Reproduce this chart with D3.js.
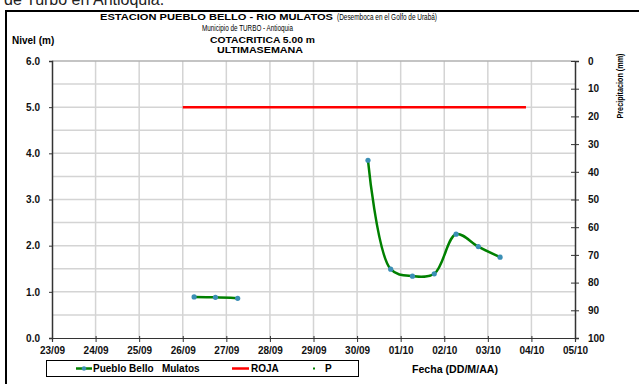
<!DOCTYPE html>
<html><head><meta charset="utf-8">
<script src="https://cdn.jsdelivr.net/npm/d3@7"></script>
<style>body{margin:0;background:#fff}svg{display:block;font-family:"Liberation Sans",Arial,sans-serif}</style>
</head><body>
<script>
const xTickLabels = ["23/09","24/09","25/09","26/09","27/09","28/09","29/09","30/09","01/10","02/10","03/10","04/10","05/10"];
const levelTimes = ["2023-09-26T06:15","2023-09-26T18:00","2023-09-27T06:15",null,
  "2023-09-30T06:00","2023-09-30T18:30","2023-10-01T06:30","2023-10-01T18:30","2023-10-02T06:30","2023-10-02T18:45","2023-10-03T06:45"];
const levelValues = [0.89,0.88,0.86,null,3.85,1.49,1.34,1.39,2.25,1.98,1.75];
const rojaTimes = ["2023-09-26T00:00","2023-10-03T21:00"];
const rojaValues = [5.0,5.0];
const precipTimes = [];
const precipValues = [];
const yTicks = [0,1,2,3,4,5,6];
const y2Ticks = [0,10,20,30,40,50,60,70,80,90,100];

const W=639,H=384;
const svg=d3.select("body").append("svg").attr("width",W).attr("height",H);
const L=52,R=575,T=61,B=338;
const parse=d3.isoParse;
const x=d3.scaleTime().domain([parse("2023-09-23T00:00"),parse("2023-10-05T00:00")]).range([L,R]);
const y=d3.scaleLinear().domain([0,6]).range([B,T]);
const y2=d3.scaleLinear().domain([0,100]).range([T,B]);

// top cut text
svg.append("text").attr("x",4).attr("y",5).attr("font-size",16).attr("fill","#222").text("de Turbo en Antioquia.");
// frame
svg.append("path").attr("d",`M6,${H+5}V11H${W+5}`).attr("fill","none").attr("stroke","#000").attr("stroke-width",2);

// titles
const t1=svg.append("text").attr("y",20);
t1.append("tspan").attr("x",100).attr("font-weight","bold").attr("font-size",9).attr("textLength",233).attr("lengthAdjust","spacingAndGlyphs").text("ESTACION PUEBLO BELLO -  RIO MULATOS");
t1.append("tspan").attr("x",337).attr("font-size",9).attr("textLength",100).attr("lengthAdjust","spacingAndGlyphs").text("(Desemboca en el Golfo de Urabá)");
svg.append("text").attr("x",202).attr("y",31).attr("font-size",9).attr("textLength",91).attr("lengthAdjust","spacingAndGlyphs").text("Municipio de TURBO - Antioquia");
svg.append("text").attr("x",210).attr("y",43).attr("font-size",9).attr("font-weight","bold").attr("textLength",105).attr("lengthAdjust","spacingAndGlyphs").text("COTACRITICA 5.00 m");
svg.append("text").attr("x",217).attr("y",53).attr("font-size",9).attr("font-weight","bold").attr("textLength",86).attr("lengthAdjust","spacingAndGlyphs").text("ULTIMASEMANA");
svg.append("text").attr("x",12).attr("y",44).attr("font-size",10).attr("font-weight","bold").text("Nivel (m)");

// grid
const g=svg.append("g");
const days=d3.range(xTickLabels.length).map(i=>d3.timeDay.offset(parse("2023-09-23T00:00"),i));
g.selectAll(".vg").data(days.slice(1,-1)).join("line").attr("x1",d=>x(d)).attr("x2",d=>x(d)).attr("y1",T).attr("y2",B).attr("stroke","#d4d4d4").attr("stroke-width",1.5);
g.selectAll(".hg").data(d3.range(0.5,6.01,0.5)).join("line").attr("x1",L).attr("x2",R).attr("y1",d=>y(d)).attr("y2",d=>y(d)).attr("stroke",d=>d===6?"#b0b0b0":"#d4d4d4").attr("stroke-width",1.5);

// axes
const ax=svg.append("g").attr("transform",`translate(0,${B})`).call(d3.axisBottom(x).tickValues(days).tickSize(4).tickFormat((d,i)=>xTickLabels[i]));
ax.select(".domain").attr("stroke","#333").attr("stroke-width",1.2);
ax.selectAll("line").attr("stroke","#333").attr("y1",-2);
ax.selectAll("text").attr("font-size",10).attr("font-weight","bold").attr("fill","#111").attr("y",9).attr("dy","0.71em");
const ay=svg.append("g").attr("transform",`translate(${L},0)`).call(d3.axisLeft(y).tickValues(yTicks).tickSize(3).tickFormat(d3.format(".1f")));
ay.select(".domain").attr("stroke","#333").attr("stroke-width",1.5);
ay.selectAll("line").attr("stroke","#333");
ay.selectAll("text").attr("font-size",10).attr("font-weight","bold").attr("fill","#111").attr("x",-12);
const ay2=svg.append("g").attr("transform",`translate(${R},0)`).call(d3.axisRight(y2).tickValues(y2Ticks).tickSize(4));
ay2.select(".domain").attr("stroke","#333").attr("stroke-width",1.5);
ay2.selectAll("line").attr("stroke","#333").attr("x1",-4);
ay2.selectAll("text").attr("font-size",10).attr("font-weight","bold").attr("fill","#111").attr("x",13);
svg.append("text").attr("transform","translate(623,86) rotate(-90)").attr("text-anchor","middle").attr("font-size",9).attr("font-weight","bold").attr("textLength",65).attr("lengthAdjust","spacingAndGlyphs").text("Precipitacion (mm)");

// roja
const rojaData=rojaTimes.map((t,i)=>({t:parse(t),v:rojaValues[i]}));
svg.append("path").datum(rojaData).attr("fill","none").attr("stroke","#ff0000").attr("stroke-width",2.5)
  .attr("d",d3.line().x(d=>x(d.t)).y(d=>y(d.v)));

// level
const lvl=levelTimes.map((t,i)=>({t:t?parse(t):null,v:levelValues[i]}));
svg.append("path").datum(lvl).attr("fill","none").attr("stroke","#008000").attr("stroke-width",2.5)
  .attr("d",d3.line().defined(d=>d.v!=null).x(d=>x(d.t)).y(d=>y(d.v)).curve(d3.curveCatmullRom.alpha(0.5)));
svg.selectAll(".pt").data(lvl.filter(d=>d.v!=null)).join("circle").attr("cx",d=>x(d.t)).attr("cy",d=>y(d.v)).attr("r",2.6).attr("fill","#3b8fb5");

// precip
svg.selectAll(".pp").data(precipTimes.map((t,i)=>({t:parse(t),v:precipValues[i]}))).join("circle").attr("cx",d=>x(d.t)).attr("cy",d=>y2(d.v)).attr("r",1.5).attr("fill","#008000");

// legend
svg.append("rect").attr("x",46.5).attr("y",360.5).attr("width",312).attr("height",16).attr("fill","#fff").attr("stroke","#000").attr("stroke-width",1);
svg.append("line").attr("x1",76).attr("x2",92).attr("y1",368.5).attr("y2",368.5).attr("stroke","#008000").attr("stroke-width",2.5);
svg.append("circle").attr("cx",84).attr("cy",368.5).attr("r",2.2).attr("fill","#3b8fb5");
svg.append("text").attr("x",93).attr("y",372).attr("font-size",10).attr("font-weight","bold").style("white-space","pre").text("Pueblo Bello   Mulatos");
svg.append("line").attr("x1",232).attr("x2",249).attr("y1",368.5).attr("y2",368.5).attr("stroke","#ff0000").attr("stroke-width",2.5);
svg.append("text").attr("x",251).attr("y",372).attr("font-size",10).attr("font-weight","bold").text("ROJA");
svg.append("rect").attr("x",313).attr("y",367.5).attr("width",2).attr("height",2).attr("fill","#008000");
svg.append("text").attr("x",325).attr("y",372).attr("font-size",10).attr("font-weight","bold").text("P");
svg.append("text").attr("x",412).attr("y",373).attr("font-size",10).attr("font-weight","bold").attr("textLength",86).attr("lengthAdjust","spacingAndGlyphs").text("Fecha (DD/M/AA)");
</script>
</body></html>
